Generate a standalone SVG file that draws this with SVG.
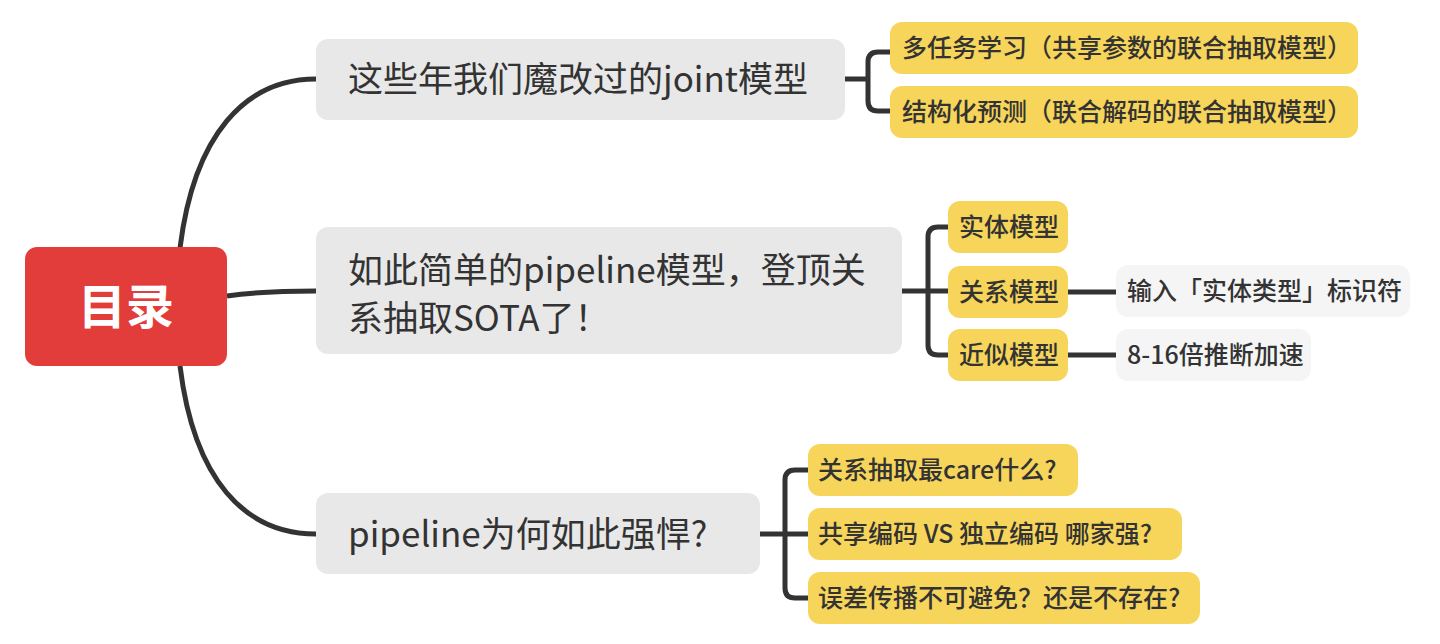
<svg xmlns="http://www.w3.org/2000/svg" width="1440" height="644" viewBox="0 0 1440 644">
<style>
text{font-family:"Noto Sans CJK SC","Noto Sans",sans-serif;fill:#333333}
.root{fill:#E23D3A}
.rt{fill:#ffffff;font-size:48px;font-weight:bold}
.br{fill:#E8E8E8}
.bt{font-size:35px;font-weight:400}
.sub{fill:#F6D55A}
.st{font-size:25px;font-weight:500}
.ter{fill:#F5F5F5}
.conn path{fill:none;stroke:#333333;stroke-width:5;stroke-linecap:butt}
</style>
<rect width="1440" height="644" fill="#ffffff"/>
<g class="conn" id="connectors">
<path d="M180 248 C194 135 245 79 316 79"/>
<path d="M227 296 C255 292 285 291 316 291"/>
<path d="M180 366 C194 480 245 534 316 534"/>
<path d="M845 79 H868"/>
<path d="M890 52 H878 Q868 52 868 62 V101 Q868 111 878 111 H890"/>
<path d="M902 291 H948"/>
<path d="M948 227 H938 Q928 227 928 237 V345 Q928 355 938 355 H948"/>
<path d="M1068 292 H1116"/>
<path d="M1068 355 H1116"/>
<path d="M760 534 H808"/>
<path d="M808 470 H795 Q785 470 785 480 V588 Q785 598 795 598 H808"/>
</g>
<g id="root"><rect class="root" x="25" y="247" width="202" height="119" rx="12"/><text class="rt" x="126" y="324" text-anchor="middle">目录</text></g>
<g id="b1"><rect class="br" x="316" y="39" width="529" height="81" rx="12"/><text class="bt" x="348" y="92">这些年我们魔改过的joint模型</text></g>
<g id="b2"><rect class="br" x="316" y="227" width="586" height="127" rx="12"/><text class="bt" x="348" y="283">如此简单的pipeline模型，登顶关</text><text class="bt" x="348" y="331">系抽取SOTA了！</text></g>
<g id="b3"><rect class="br" x="316" y="493" width="444" height="81" rx="12"/><text class="bt" x="348" y="547">pipeline为何如此强悍?</text></g>
<g id="s11"><rect class="sub" x="890" y="22" width="468" height="52" rx="12"/><text class="st" x="902" y="57">多任务学习（共享参数的联合抽取模型）</text></g>
<g id="s12"><rect class="sub" x="890" y="86" width="468" height="52" rx="12"/><text class="st" x="902" y="121">结构化预测（联合解码的联合抽取模型）</text></g>
<g id="s21"><rect class="sub" x="948" y="201" width="120" height="52" rx="12"/><text class="st" x="959" y="236">实体模型</text></g>
<g id="s22"><rect class="sub" x="948" y="266" width="120" height="52" rx="12"/><text class="st" x="959" y="301">关系模型</text></g>
<g id="s23"><rect class="sub" x="948" y="329" width="120" height="52" rx="12"/><text class="st" x="959" y="364">近似模型</text></g>
<g id="t1"><rect class="ter" x="1116" y="265" width="294" height="52" rx="12"/><text class="st" x="1127" y="300">输入「实体类型」标识符</text></g>
<g id="t2"><rect class="ter" x="1116" y="329" width="195" height="52" rx="12"/><text class="st" x="1127" y="364">8-16倍推断加速</text></g>
<g id="s31"><rect class="sub" x="808" y="444" width="270" height="52" rx="12"/><text class="st" x="818" y="479">关系抽取最care什么?</text></g>
<g id="s32"><rect class="sub" x="808" y="508" width="374" height="52" rx="12"/><text class="st" x="818" y="543">共享编码 VS 独立编码 哪家强?</text></g>
<g id="s33"><rect class="sub" x="808" y="572" width="392" height="52" rx="12"/><text class="st" x="818" y="607">误差传播不可避免？还是不存在?</text></g>
</svg>
